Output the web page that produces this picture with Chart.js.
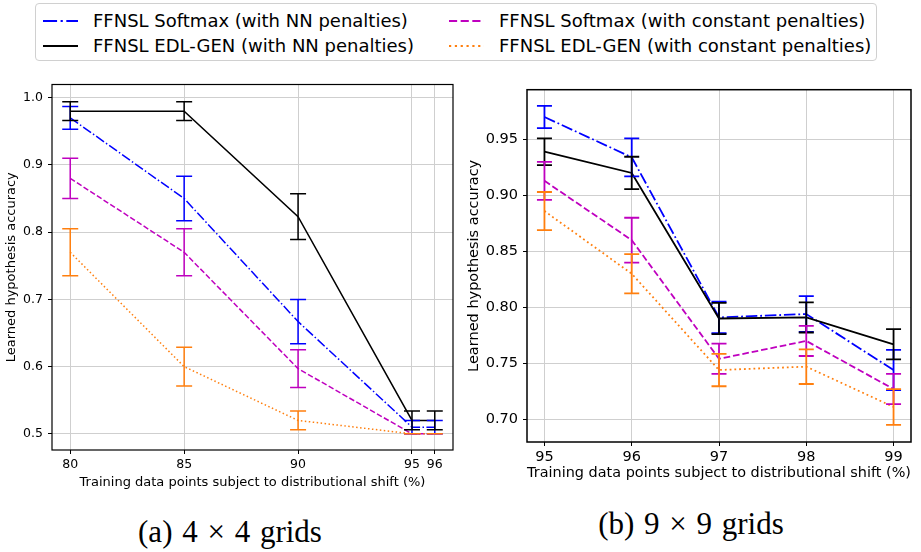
<!DOCTYPE html>
<html>
<head>
<meta charset="utf-8">
<script src="https://cdn.jsdelivr.net/npm/chart.js@4.4.1/dist/chart.umd.min.js"></script>
<style>
  html, body { margin: 0; padding: 0; background: #fff; }
  #page { position: relative; width: 921px; height: 552px; overflow: hidden; font-family: "DejaVu Sans", sans-serif; }
  canvas { position: absolute; }
  #legend { position: absolute; left: 35px; top: 3px; width: 842px; height: 58px; border: 1px solid #d0d0d0; border-radius: 4px; box-sizing: border-box; }
  .item { position: absolute; font-size: 18px; line-height: 22px; white-space: nowrap; color: #000; }
  .item svg { position: absolute; left: 0; top: 5px; }
  .item span { position: absolute; white-space: nowrap; }
  .caption { position: absolute; font-family: "Liberation Serif", serif; font-size: 31px; line-height: 34px; word-spacing: 2px; text-align: center; color: #000; white-space: nowrap; }
</style>
</head>
<body>
<div id="page">
  <div id="legend"></div>
  <canvas id="leftChart" width="465" height="428" style="left:0px;top:72px;width:465px;height:428px"></canvas>
  <canvas id="rightChart" width="461" height="409" style="left:460px;top:76px;width:461px;height:409px"></canvas>
  <div class="caption" style="left:130px;top:515px;width:200px">(a) 4 × 4 grids</div>
  <div class="caption" style="left:591px;top:507px;width:200px">(b) 9 × 9 grids</div>
</div>
<script>
// ---- data: (a) 4x4 grids ----
const xLeft = [80, 85, 90, 95, 96];
const softmaxNnLeft = [0.970, 0.850, 0.667, 0.510, 0.510];
const softmaxNnLeftErr = [0.017, 0.033, 0.033, 0.010, 0.010];
const edlNnLeft = [0.980, 0.980, 0.823, 0.520, 0.520];
const edlNnLeftErr = [0.014, 0.014, 0.034, 0.014, 0.014];
const softmaxConstLeft = [0.880, 0.770, 0.597, 0.500, 0.500];
const softmaxConstLeftErr = [0.030, 0.035, 0.028, 0, 0];
const edlConstLeft = [0.770, 0.600, 0.520, 0.500, 0.500];
const edlConstLeftErr = [0.035, 0.029, 0.014, 0, 0];
const yTicksLeft = [0.5, 0.6, 0.7, 0.8, 0.9, 1.0];

// ---- data: (b) 9x9 grids ----
const xRight = [95, 96, 97, 98, 99];
const softmaxNnRight = [0.970, 0.934, 0.791, 0.794, 0.744];
const softmaxNnRightErr = [0.010, 0.017, 0.014, 0.016, 0.018];
const edlNnRight = [0.939, 0.920, 0.790, 0.791, 0.767];
const edlNnRightErr = [0.012, 0.0145, 0.014, 0.0135, 0.0135];
const softmaxConstRight = [0.913, 0.860, 0.754, 0.770, 0.727];
const softmaxConstRightErr = [0.017, 0.020, 0.0135, 0.0135, 0.0135];
const edlConstRight = [0.886, 0.830, 0.744, 0.747, 0.711];
const edlConstRightErr = [0.017, 0.0175, 0.0145, 0.0155, 0.016];
const yTicksRight = [0.70, 0.75, 0.80, 0.85, 0.90, 0.95];

const SERIES = [
  { label: 'FFNSL Softmax (with NN penalties)', color: '#0000ff', dash: [6.4, 1.6, 1, 1.6] },
  { label: 'FFNSL EDL-GEN (with NN penalties)', color: '#000000', dash: [] },
  { label: 'FFNSL Softmax (with constant penalties)', color: '#bf00bf', dash: [3.7, 1.6] },
  { label: 'FFNSL EDL-GEN (with constant penalties)', color: '#ff7f0e', dash: [1, 1.65] },
];

Chart.defaults.font.family = '"DejaVu Sans", sans-serif';
Chart.defaults.color = '#000';

// legend (shared by both panels), matplotlib ncol=2 layout
const legendPos = [
  { x: 6, y: 6 }, { x: 6, y: 31 }, { x: 412, y: 6 }, { x: 412, y: 31 },
];
const legendEl = document.getElementById('legend');
SERIES.forEach((s, i) => {
  const d = document.createElement('div');
  d.className = 'item';
  d.style.left = legendPos[i].x + 'px';
  d.style.top = legendPos[i].y + 'px';
  const lw = 2.2;
  const dash = s.dash.length ? s.dash.map(v => v * lw).join(' ') : 'none';
  d.innerHTML = `<svg width="36" height="12"><line x1="1" y1="6" x2="36" y2="6" stroke="${s.color}" stroke-width="${lw}" stroke-dasharray="${dash}"/></svg>` +
    `<span style="left:51px;top:0px">${s.label}</span>`;
  legendEl.appendChild(d);
});

const errorBarPlugin = {
  id: 'errorBars',
  afterDatasetsDraw(chart, args, opts) {
    const { ctx, scales } = chart;
    chart.data.datasets.forEach((ds, i) => {
      const meta = chart.getDatasetMeta(i);
      ctx.save();
      ctx.strokeStyle = ds.borderColor;
      ctx.lineWidth = opts.width;
      ctx.setLineDash([]);
      meta.data.forEach((pt, j) => {
        const v = ds.data[j].y;
        const e = ds.errors[j];
        const top = scales.y.getPixelForValue(v + e);
        const bot = scales.y.getPixelForValue(v - e);
        ctx.beginPath();
        ctx.moveTo(pt.x, top); ctx.lineTo(pt.x, bot);
        ctx.moveTo(pt.x - opts.cap, top); ctx.lineTo(pt.x + opts.cap, top);
        ctx.moveTo(pt.x - opts.cap, bot); ctx.lineTo(pt.x + opts.cap, bot);
        ctx.stroke();
      });
      ctx.restore();
    });
  }
};

const framePlugin = {
  id: 'frame',
  afterDraw(chart, args, opts) {
    const { ctx, chartArea: a } = chart;
    ctx.save();
    ctx.strokeStyle = '#000';
    ctx.lineWidth = opts.width;
    ctx.strokeRect(a.left, a.top, a.right - a.left, a.bottom - a.top);
    ctx.restore();
  }
};

function buildChart(id, p) {
  const datasets = p.values.map((vals, i) => ({
    label: SERIES[i].label,
    data: p.x.map((xv, j) => ({ x: xv, y: vals[j] })),
    errors: p.errors[i],
    borderColor: SERIES[i].color,
    backgroundColor: SERIES[i].color,
    borderWidth: p.lw,
    borderDash: SERIES[i].dash.map(v => v * p.lw),
    pointRadius: 0,
    tension: 0,
    fill: false,
    order: 3 - i,
  }));

  return new Chart(document.getElementById(id), {
    type: 'line',
    data: { datasets },
    plugins: [errorBarPlugin, framePlugin],
    options: {
      responsive: false,
      animation: false,
      events: [],
      layout: { padding: p.padding },
      plugins: {
        legend: { display: false },
        tooltip: { enabled: false },
        errorBars: { width: p.lw, cap: p.cap },
        frame: { width: p.frame },
      },
      scales: {
        x: {
          type: 'linear',
          min: p.xMin,
          max: p.xMax,
          afterBuildTicks(scale) { scale.ticks = p.x.map(v => ({ value: v })); },
          afterFit(scale) { scale.height = p.xAxisH; },
          ticks: { font: { size: p.tickSize }, padding: p.xTickPad, maxRotation: 0, autoSkip: false, callback: v => String(v) },
          grid: { color: '#cfcfcf', lineWidth: 1, tickColor: '#000', tickLength: 4 },
          border: { display: false },
          title: { display: true, text: 'Training data points subject to distributional shift (%)', font: { size: p.titleSize }, padding: { top: 0, bottom: p.xTitlePad } },
        },
        y: {
          type: 'linear',
          min: p.yMin,
          max: p.yMax,
          afterBuildTicks(scale) { scale.ticks = p.yTicks.map(v => ({ value: v })); },
          afterFit(scale) { scale.width = p.yAxisW; },
          ticks: { font: { size: p.tickSize }, padding: p.yTickPad, callback: v => v.toFixed(p.digits) },
          grid: { color: '#cfcfcf', lineWidth: 1, tickColor: '#000', tickLength: 4 },
          border: { display: false },
          title: { display: true, text: 'Learned hypothesis accuracy', font: { size: p.titleSize }, padding: { top: p.yTitlePad, bottom: 0 } },
        },
      },
    },
  });
}

buildChart('leftChart', {
  x: xLeft,
  values: [softmaxNnLeft, edlNnLeft, softmaxConstLeft, edlConstLeft],
  errors: [softmaxNnLeftErr, edlNnLeftErr, softmaxConstLeftErr, edlConstLeftErr],
  yTicks: yTicksLeft, digits: 1,
  xMin: 79.2, xMax: 96.8, yMin: 0.476, yMax: 1.0196,
  padding: { top: 8, right: 12, left: 0, bottom: 0 },
  xAxisH: 50, yAxisW: 52,
  tickSize: 12.5, titleSize: 13,
  xTickPad: 3, yTickPad: 5, xTitlePad: 10, yTitlePad: 4,
  lw: 1.5, cap: 8, frame: 1.2,
});

buildChart('rightChart', {
  x: xRight,
  values: [softmaxNnRight, edlNnRight, softmaxConstRight, edlConstRight],
  errors: [softmaxNnRightErr, edlNnRightErr, softmaxConstRightErr, edlConstRightErr],
  yTicks: yTicksRight, digits: 2,
  xMin: 94.8, xMax: 99.2, yMin: 0.6797, yMax: 0.9944,
  padding: { top: 10, right: 10, left: 0, bottom: 0 },
  xAxisH: 43, yAxisW: 67,
  tickSize: 14.5, titleSize: 14.5,
  xTickPad: 3, yTickPad: 5, xTitlePad: 3, yTitlePad: 6,
  lw: 1.8, cap: 7.5, frame: 1.5,
});
</script>
</body>
</html>
